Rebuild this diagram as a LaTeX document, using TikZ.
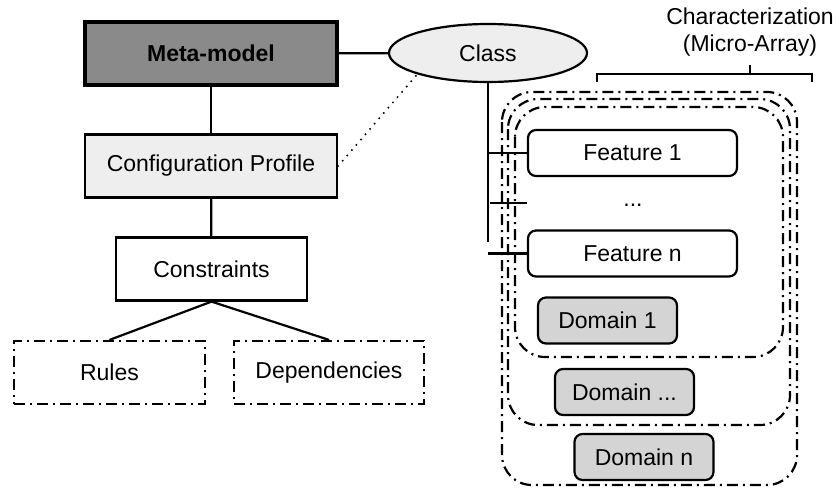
\documentclass[tikz,border=0pt]{standalone}
\usepackage{tikz}
\usetikzlibrary{calc}
\usetikzlibrary{positioning}
\usetikzlibrary{shapes.geometric}
\usepackage{fontspec}
\setmainfont{Liberation Sans}
\usepackage{color}
\definecolor{slate}{RGB}{138, 138, 138}
\definecolor{mist}{RGB}{238, 238, 238}
\definecolor{pebble}{RGB}{212, 212, 212}
\tikzset{
  box/.style     = {draw, line width=2.2pt, minimum height=63pt, inner sep=0pt},
  metabox/.style = {box, fill=slate, line width=4pt},
  featbox/.style = {draw, line width=2.2pt, rounded corners=8pt, minimum width=209pt, minimum height=46pt},
  dombox/.style  = {draw, line width=2.2pt, rounded corners=8pt, fill=pebble, minimum width=139pt, minimum height=46pt},
  dashdot/.style = {line width=2.2pt, dash pattern=on 11pt off 5pt on 2pt off 5pt},
  conn/.style    = {line width=2.2pt}
}
\begin{document}
\begin{tikzpicture}[x=1pt, y=-1pt, font=\fontsize{23}{27}\selectfont]
        \useasboundingbox (0,0) rectangle (836,488);
        % left tree
        \node[metabox, minimum width=252pt]                (meta)   at (211.0, 53.5) {\textbf{Meta-model}};
        \node[box, fill=mist, minimum width=252pt]         (config) at (211.0,166.0) {Configuration Profile};
        \node[box, minimum width=191pt]                    (cons)   at (211.5,269.0) {Constraints};
        \node[box, dashdot, minimum width=191pt]           (rules)  at (109.5,372.5) {Rules};
        \node[box, dashdot, minimum width=190pt]           (deps)   at (329.0,372.5) {Dependencies};
        \node[draw, ellipse, fill=mist, line width=2.2pt,
              minimum width=198pt, minimum height=58pt]    (class)  at (488.0, 53.0) {Class};
        % micro-array
        \draw[dashdot, rounded corners=30pt] (502, 92) rectangle (797,485);
        \draw[dashdot, rounded corners=30pt] (508, 99) rectangle (790,425);
        \draw[dashdot, rounded corners=30pt] (515,107) rectangle (783,357);
        \node[featbox, fill=white]                         (feat1)  at (632.5,153.0) {Feature 1};
        \node                                              (dots)   at (633.0,205.0) {...};
        \node[featbox, fill=white]                         (featn)  at (632.5,253.5) {Feature n};
        \node[dombox]                                      (dom1)   at (607.5,320.5) {Domain 1};
        \node[dombox]                                      (domm)   at (624.5,392.0) {Domain ...};
        \node[dombox]                                      (domn)   at (644.0,457.0) {Domain n};
        \node[align=center, inner sep=0pt]                 (chart)  at (750.0, 32.0) {Characterization\\(Micro-Array)};
        \coordinate (braceL) at (597,74);
        \coordinate (braceR) at (812,74);
        \coordinate (braceM) at (750,74);
        \draw[conn] ($(braceL)+(0,8)$) -- (braceL) -- (braceR) -- ($(braceR)+(0,8)$);
        \draw[conn] (braceM) -- ++(0,-9);
        % connectors
        \coordinate (trunk) at (488,242);
        \coordinate (mid)   at (490,203);
        \draw[conn] (meta) -- (class);
        \draw[conn] (meta) -- (config);
        \draw[conn] (config) -- (cons);
        \draw[conn] (cons.south) -- (rules.north);
        \draw[conn] (cons.south) -- (deps.north);
        \draw[line width=2.2pt, line cap=round, dash pattern=on 0pt off 7pt] (config.east) -- (class.south west);
        \draw[conn] (class.south) -- (trunk);
        \draw[conn] (class.south |- feat1.west) -- (feat1.west);
        \draw[conn] (mid) -- (mid -| feat1.west);
        \draw[conn] (class.south |- featn.west) -- (featn.west);
\end{tikzpicture}
\end{document}
